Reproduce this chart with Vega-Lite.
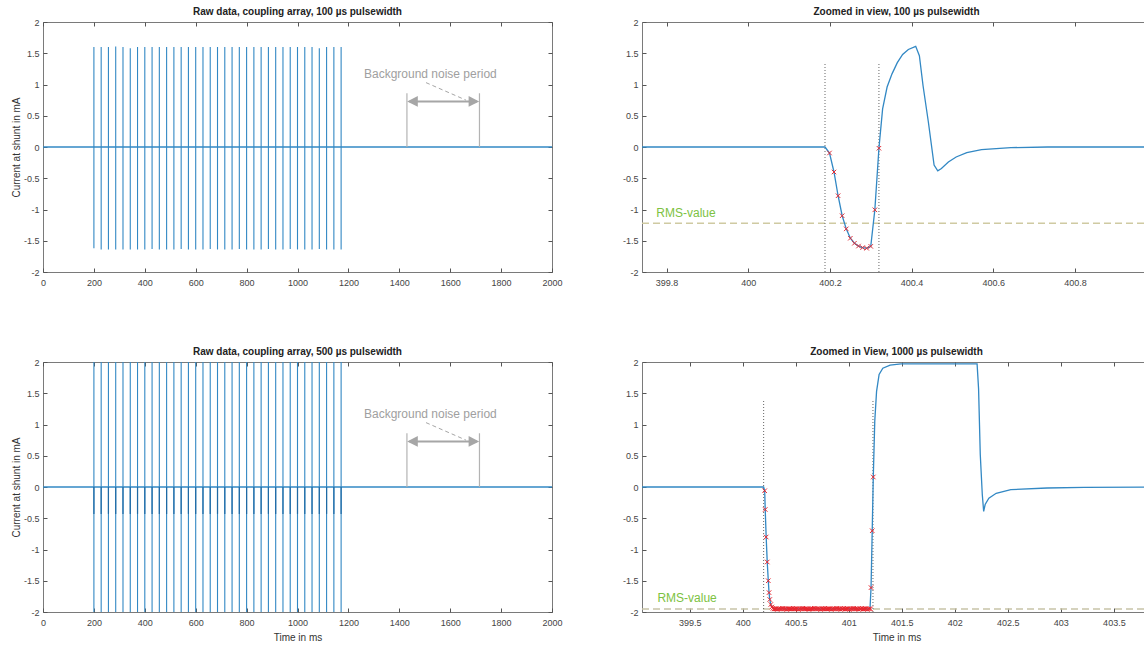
{
  "$schema": "https://vega.github.io/schema/vega-lite/v6.json",
  "background": "white",
  "padding": {"left": 10, "top": 6, "right": 0, "bottom": 0},
  "columns": 2,
  "spacing": {"column": 90, "row": 90},
  "bounds": "flush",
  "resolve": {"scale": {"x": "independent", "y": "independent"}},
  "config": {
    "view": {"stroke": "#7a7a7a", "strokeWidth": 1},
    "axis": {"grid": false, "domain": false, "tickColor": "#555555", "tickSize": -4, "tickWidth": 1, "labelPadding": 8, "labelFont": "Liberation Sans", "labelFontSize": 9, "labelColor": "#444444", "labelFlush": false, "labelOverlap": false, "titleFont": "Liberation Sans", "titleFontSize": 10, "titleFontWeight": "normal", "titleColor": "#333333", "titlePadding": 2},
    "axisX": {"labelPadding": 10, "titlePadding": 5},
    "title": {"font": "Liberation Sans", "fontSize": 10, "fontWeight": "bold", "color": "#222222", "offset": 1, "anchor": "middle", "frame": "group"}
  },
  "datasets": {
    "tl_base": [{"t": 0, "y": 0}, {"t": 2000, "y": 0}],
    "tl_spikes": [
      {"t": 200, "lo": -1.62, "hi": 1.6}, {"t": 228.6, "lo": -1.64, "hi": 1.6}, {"t": 257.1, "lo": -1.64, "hi": 1.6}, {"t": 285.7, "lo": -1.64, "hi": 1.61},
      {"t": 314.3, "lo": -1.64, "hi": 1.6}, {"t": 342.9, "lo": -1.64, "hi": 1.58}, {"t": 371.4, "lo": -1.64, "hi": 1.6}, {"t": 400, "lo": -1.64, "hi": 1.6},
      {"t": 428.6, "lo": -1.63, "hi": 1.6}, {"t": 457.1, "lo": -1.64, "hi": 1.6}, {"t": 485.7, "lo": -1.64, "hi": 1.6}, {"t": 514.3, "lo": -1.64, "hi": 1.6},
      {"t": 542.9, "lo": -1.63, "hi": 1.6}, {"t": 571.4, "lo": -1.64, "hi": 1.6}, {"t": 600, "lo": -1.64, "hi": 1.6}, {"t": 628.6, "lo": -1.64, "hi": 1.6},
      {"t": 657.1, "lo": -1.63, "hi": 1.6}, {"t": 685.7, "lo": -1.64, "hi": 1.6}, {"t": 714.3, "lo": -1.64, "hi": 1.6}, {"t": 742.9, "lo": -1.64, "hi": 1.6},
      {"t": 771.4, "lo": -1.63, "hi": 1.6}, {"t": 800, "lo": -1.64, "hi": 1.6}, {"t": 828.6, "lo": -1.64, "hi": 1.6}, {"t": 857.1, "lo": -1.64, "hi": 1.6},
      {"t": 885.7, "lo": -1.63, "hi": 1.6}, {"t": 914.3, "lo": -1.64, "hi": 1.6}, {"t": 942.9, "lo": -1.64, "hi": 1.6}, {"t": 971.4, "lo": -1.63, "hi": 1.6},
      {"t": 1000, "lo": -1.64, "hi": 1.6}, {"t": 1028.6, "lo": -1.64, "hi": 1.6}, {"t": 1057.1, "lo": -1.64, "hi": 1.6}, {"t": 1085.7, "lo": -1.63, "hi": 1.58},
      {"t": 1114.3, "lo": -1.64, "hi": 1.6}, {"t": 1142.9, "lo": -1.64, "hi": 1.6}, {"t": 1171.4, "lo": -1.64, "hi": 1.6}
    ],
    "bl_spikes": [
      {"t": 200, "lo": -2, "hi": 2, "base": 0, "os": -0.43}, {"t": 228.6, "lo": -2, "hi": 2, "base": 0, "os": -0.43}, {"t": 257.1, "lo": -2, "hi": 2, "base": 0, "os": -0.43}, {"t": 285.7, "lo": -2, "hi": 2, "base": 0, "os": -0.43},
      {"t": 314.3, "lo": -2, "hi": 2, "base": 0, "os": -0.43}, {"t": 342.9, "lo": -2, "hi": 2, "base": 0, "os": -0.43}, {"t": 371.4, "lo": -2, "hi": 2, "base": 0, "os": -0.43}, {"t": 400, "lo": -2, "hi": 2, "base": 0, "os": -0.43},
      {"t": 428.6, "lo": -2, "hi": 2, "base": 0, "os": -0.43}, {"t": 457.1, "lo": -2, "hi": 2, "base": 0, "os": -0.43}, {"t": 485.7, "lo": -2, "hi": 2, "base": 0, "os": -0.43}, {"t": 514.3, "lo": -2, "hi": 2, "base": 0, "os": -0.43},
      {"t": 542.9, "lo": -2, "hi": 2, "base": 0, "os": -0.43}, {"t": 571.4, "lo": -2, "hi": 2, "base": 0, "os": -0.43}, {"t": 600, "lo": -2, "hi": 2, "base": 0, "os": -0.43}, {"t": 628.6, "lo": -2, "hi": 2, "base": 0, "os": -0.43},
      {"t": 657.1, "lo": -2, "hi": 2, "base": 0, "os": -0.43}, {"t": 685.7, "lo": -2, "hi": 2, "base": 0, "os": -0.43}, {"t": 714.3, "lo": -2, "hi": 2, "base": 0, "os": -0.43}, {"t": 742.9, "lo": -2, "hi": 2, "base": 0, "os": -0.43},
      {"t": 771.4, "lo": -2, "hi": 2, "base": 0, "os": -0.43}, {"t": 800, "lo": -2, "hi": 2, "base": 0, "os": -0.43}, {"t": 828.6, "lo": -2, "hi": 2, "base": 0, "os": -0.43}, {"t": 857.1, "lo": -2, "hi": 2, "base": 0, "os": -0.43},
      {"t": 885.7, "lo": -2, "hi": 2, "base": 0, "os": -0.43}, {"t": 914.3, "lo": -2, "hi": 2, "base": 0, "os": -0.43}, {"t": 942.9, "lo": -2, "hi": 2, "base": 0, "os": -0.43}, {"t": 971.4, "lo": -2, "hi": 2, "base": 0, "os": -0.43},
      {"t": 1000, "lo": -2, "hi": 2, "base": 0, "os": -0.43}, {"t": 1028.6, "lo": -2, "hi": 2, "base": 0, "os": -0.43}, {"t": 1057.1, "lo": -2, "hi": 2, "base": 0, "os": -0.43}, {"t": 1085.7, "lo": -2, "hi": 2, "base": 0, "os": -0.43},
      {"t": 1114.3, "lo": -2, "hi": 2, "base": 0, "os": -0.43}, {"t": 1142.9, "lo": -2, "hi": 2, "base": 0, "os": -0.43}, {"t": 1171.4, "lo": -2, "hi": 2, "base": 0, "os": -0.43}
    ],
    "nz_v": [{"t": 1430, "y0": 0, "y1": 0.86}, {"t": 1715, "y0": 0, "y1": 0.86}],
    "nz_arrow": [{"t0": 1440, "t1": 1705, "y": 0.73}],
    "nz_heads": [{"t": 1431, "y": 0.73, "dir": "L"}, {"t": 1714, "y": 0.73, "dir": "R"}],
    "nz_leader": [{"t": 1505, "y": 1.03}, {"t": 1662, "y": 0.75}],
    "nz_label": [{"t": 1522, "y": 1.165, "label": "Background noise period"}],
    "tr_line": [
      {"t": 399.74, "y": 0}, {"t": 400.188, "y": 0}, {"t": 400.199, "y": -0.096}, {"t": 400.21, "y": -0.4}, {"t": 400.22, "y": -0.78},
      {"t": 400.23, "y": -1.1}, {"t": 400.24, "y": -1.31}, {"t": 400.25, "y": -1.46}, {"t": 400.26, "y": -1.54}, {"t": 400.27, "y": -1.585},
      {"t": 400.28, "y": -1.61}, {"t": 400.29, "y": -1.62}, {"t": 400.3, "y": -1.59}, {"t": 400.31, "y": -1.005}, {"t": 400.32, "y": -0.02},
      {"t": 400.329, "y": 0.61}, {"t": 400.34, "y": 0.96}, {"t": 400.352, "y": 1.17}, {"t": 400.365, "y": 1.35}, {"t": 400.378, "y": 1.48},
      {"t": 400.392, "y": 1.56}, {"t": 400.41, "y": 1.61}, {"t": 400.419, "y": 1.46}, {"t": 400.428, "y": 0.98}, {"t": 400.441, "y": 0.4},
      {"t": 400.455, "y": -0.29}, {"t": 400.464, "y": -0.38}, {"t": 400.473, "y": -0.345}, {"t": 400.49, "y": -0.24}, {"t": 400.509, "y": -0.16},
      {"t": 400.535, "y": -0.09}, {"t": 400.571, "y": -0.043}, {"t": 400.643, "y": -0.01}, {"t": 400.733, "y": 0}, {"t": 400.986, "y": 0}
    ],
    "tr_marks": [
      {"t": 400.199, "y": -0.096}, {"t": 400.21, "y": -0.4}, {"t": 400.22, "y": -0.78}, {"t": 400.23, "y": -1.1}, {"t": 400.24, "y": -1.31},
      {"t": 400.25, "y": -1.46}, {"t": 400.26, "y": -1.54}, {"t": 400.27, "y": -1.585}, {"t": 400.28, "y": -1.61}, {"t": 400.29, "y": -1.62},
      {"t": 400.3, "y": -1.59}, {"t": 400.31, "y": -1.005}, {"t": 400.32, "y": -0.02}
    ],
    "tr_vlines": [{"t": 400.188, "y0": -2, "y1": 1.36}, {"t": 400.32, "y0": -2, "y1": 1.36}],
    "tr_rms": [{"t0": 399.74, "t1": 400.986, "y": -1.22}],
    "tr_label": [{"t": 399.775, "y": -1.06, "label": "RMS-value"}],
    "br_line": [
      {"t": 399.05, "y": 0}, {"t": 400.197, "y": 0}, {"t": 400.207, "y": -0.06}, {"t": 400.212, "y": -0.36}, {"t": 400.221, "y": -0.8},
      {"t": 400.231, "y": -1.2}, {"t": 400.241, "y": -1.5}, {"t": 400.248, "y": -1.69}, {"t": 400.255, "y": -1.8}, {"t": 400.265, "y": -1.88},
      {"t": 400.28, "y": -1.93}, {"t": 400.3, "y": -1.95}, {"t": 401.2, "y": -1.95}, {"t": 401.21, "y": -1.61}, {"t": 401.221, "y": -0.7},
      {"t": 401.231, "y": 0.16}, {"t": 401.245, "y": 1.05}, {"t": 401.262, "y": 1.53}, {"t": 401.286, "y": 1.8}, {"t": 401.321, "y": 1.9},
      {"t": 401.39, "y": 1.95}, {"t": 401.493, "y": 1.97}, {"t": 402.21, "y": 1.97}, {"t": 402.224, "y": 1.57}, {"t": 402.24, "y": 0.52},
      {"t": 402.259, "y": -0.12}, {"t": 402.272, "y": -0.39}, {"t": 402.286, "y": -0.28}, {"t": 402.321, "y": -0.18}, {"t": 402.39, "y": -0.1},
      {"t": 402.528, "y": -0.043}, {"t": 402.87, "y": -0.016}, {"t": 403.22, "y": -0.005}, {"t": 403.85, "y": 0}
    ],
    "br_marks": [
      {"t": 400.207, "y": -0.06}, {"t": 400.212, "y": -0.36}, {"t": 400.221, "y": -0.8}, {"t": 400.231, "y": -1.2}, {"t": 400.241, "y": -1.5},
      {"t": 400.248, "y": -1.69}, {"t": 400.255, "y": -1.8}, {"t": 400.265, "y": -1.88}, {"t": 400.275, "y": -1.92}, {"t": 400.285, "y": -1.94},
      {"t": 400.295, "y": -1.95}, {"t": 400.305, "y": -1.95}, {"t": 400.315, "y": -1.95}, {"t": 400.325, "y": -1.96}, {"t": 400.335, "y": -1.95},
      {"t": 400.345, "y": -1.95}, {"t": 400.355, "y": -1.95}, {"t": 400.365, "y": -1.95}, {"t": 400.375, "y": -1.94}, {"t": 400.385, "y": -1.95},
      {"t": 400.395, "y": -1.95}, {"t": 400.405, "y": -1.95}, {"t": 400.415, "y": -1.96}, {"t": 400.425, "y": -1.95}, {"t": 400.435, "y": -1.95},
      {"t": 400.445, "y": -1.95}, {"t": 400.455, "y": -1.95}, {"t": 400.465, "y": -1.95}, {"t": 400.475, "y": -1.94}, {"t": 400.485, "y": -1.95},
      {"t": 400.495, "y": -1.95}, {"t": 400.505, "y": -1.95}, {"t": 400.515, "y": -1.95}, {"t": 400.525, "y": -1.96}, {"t": 400.535, "y": -1.95},
      {"t": 400.545, "y": -1.95}, {"t": 400.555, "y": -1.95}, {"t": 400.565, "y": -1.94}, {"t": 400.575, "y": -1.95}, {"t": 400.585, "y": -1.95},
      {"t": 400.595, "y": -1.95}, {"t": 400.605, "y": -1.95}, {"t": 400.615, "y": -1.95}, {"t": 400.625, "y": -1.96}, {"t": 400.635, "y": -1.95},
      {"t": 400.645, "y": -1.95}, {"t": 400.655, "y": -1.95}, {"t": 400.665, "y": -1.95}, {"t": 400.675, "y": -1.94}, {"t": 400.685, "y": -1.95},
      {"t": 400.695, "y": -1.95}, {"t": 400.705, "y": -1.95}, {"t": 400.715, "y": -1.95}, {"t": 400.725, "y": -1.95}, {"t": 400.735, "y": -1.96},
      {"t": 400.745, "y": -1.95}, {"t": 400.755, "y": -1.95}, {"t": 400.765, "y": -1.95}, {"t": 400.775, "y": -1.94}, {"t": 400.785, "y": -1.95},
      {"t": 400.795, "y": -1.95}, {"t": 400.805, "y": -1.95}, {"t": 400.815, "y": -1.95}, {"t": 400.825, "y": -1.95}, {"t": 400.835, "y": -1.96},
      {"t": 400.845, "y": -1.95}, {"t": 400.855, "y": -1.95}, {"t": 400.865, "y": -1.95}, {"t": 400.875, "y": -1.95}, {"t": 400.885, "y": -1.94},
      {"t": 400.895, "y": -1.95}, {"t": 400.905, "y": -1.95}, {"t": 400.915, "y": -1.95}, {"t": 400.925, "y": -1.96}, {"t": 400.935, "y": -1.95},
      {"t": 400.945, "y": -1.95}, {"t": 400.955, "y": -1.94}, {"t": 400.965, "y": -1.95}, {"t": 400.975, "y": -1.95}, {"t": 400.985, "y": -1.95},
      {"t": 400.995, "y": -1.95}, {"t": 401.005, "y": -1.96}, {"t": 401.015, "y": -1.95}, {"t": 401.025, "y": -1.95}, {"t": 401.035, "y": -1.95},
      {"t": 401.045, "y": -1.94}, {"t": 401.055, "y": -1.95}, {"t": 401.065, "y": -1.95}, {"t": 401.075, "y": -1.95}, {"t": 401.085, "y": -1.95},
      {"t": 401.095, "y": -1.96}, {"t": 401.105, "y": -1.95}, {"t": 401.115, "y": -1.95}, {"t": 401.125, "y": -1.94}, {"t": 401.135, "y": -1.95},
      {"t": 401.145, "y": -1.95}, {"t": 401.155, "y": -1.95}, {"t": 401.165, "y": -1.95}, {"t": 401.175, "y": -1.96}, {"t": 401.185, "y": -1.95},
      {"t": 401.195, "y": -1.95}, {"t": 401.205, "y": -1.95}, {"t": 401.21, "y": -1.61}, {"t": 401.221, "y": -0.7}, {"t": 401.231, "y": 0.16}
    ],
    "br_vlines": [{"t": 400.197, "y0": -2, "y1": 1.385}, {"t": 401.228, "y0": -2, "y1": 1.385}],
    "br_rms": [{"t0": 399.05, "t1": 403.85, "y": -1.952}],
    "br_label": [{"t": 399.195, "y": -1.78, "label": "RMS-value"}]
  },
  "concat": [
    {
      "title": "Raw data, coupling array, 100 µs pulsewidth",
      "width": 509, "height": 250,
      "resolve": {"axis": {"x": "independent", "y": "independent"}},
      "layer": [
        {"data": {"name": "tl_base"}, "mark": {"type": "line", "color": "#3288c4", "strokeWidth": 1.3},
         "encoding": {
           "x": {"field": "t", "type": "quantitative", "scale": {"domain": [0, 2000], "nice": false, "zero": false}, "axis": {"values": [0, 200, 400, 600, 800, 1000, 1200, 1400, 1600, 1800, 2000], "labelExpr": "datum.value + ''", "title": null}},
           "y": {"field": "y", "type": "quantitative", "scale": {"domain": [-2, 2], "nice": false, "zero": false}, "axis": {"values": [-2, -1.5, -1, -0.5, 0, 0.5, 1, 1.5, 2], "labelExpr": "datum.value + ''", "title": "Current at shunt in mA"}}}},
        {"data": {"name": "tl_spikes"}, "mark": {"type": "rule", "color": "#3288c4", "strokeWidth": 1.1},
         "encoding": {"x": {"field": "t", "type": "quantitative", "axis": null}, "y": {"field": "lo", "type": "quantitative", "axis": null}, "y2": {"field": "hi"}}},
        {"data": {"name": "nz_v"}, "mark": {"type": "rule", "color": "#b3b3b3", "strokeWidth": 1.2},
         "encoding": {"x": {"field": "t", "type": "quantitative", "axis": null}, "y": {"field": "y0", "type": "quantitative", "axis": null}, "y2": {"field": "y1"}}},
        {"data": {"name": "nz_arrow"}, "mark": {"type": "rule", "color": "#a6a6a6", "strokeWidth": 2},
         "encoding": {"x": {"field": "t0", "type": "quantitative", "axis": null}, "x2": {"field": "t1"}, "y": {"field": "y", "type": "quantitative", "axis": null}}},
        {"data": {"name": "nz_heads"}, "mark": {"type": "point", "filled": true, "color": "#a6a6a6", "size": 450, "opacity": 1},
         "encoding": {"x": {"field": "t", "type": "quantitative", "axis": null}, "y": {"field": "y", "type": "quantitative", "axis": null},
           "shape": {"field": "dir", "type": "nominal", "scale": {"domain": ["L", "R"], "range": ["M0,0L1,-0.5L1,0.5Z", "M0,0L-1,-0.5L-1,0.5Z"]}, "legend": null}}},
        {"data": {"name": "nz_leader"}, "mark": {"type": "line", "color": "#a6a6a6", "strokeWidth": 1, "strokeDash": [4, 3]},
         "encoding": {"x": {"field": "t", "type": "quantitative", "axis": null}, "y": {"field": "y", "type": "quantitative", "axis": null}}},
        {"data": {"name": "nz_label"}, "mark": {"type": "text", "color": "#a0a0a0", "fontSize": 12, "font": "Liberation Sans", "align": "center", "baseline": "middle"},
         "encoding": {"x": {"field": "t", "type": "quantitative", "axis": null}, "y": {"field": "y", "type": "quantitative", "axis": null}, "text": {"field": "label", "type": "nominal"}}},
        {"data": {"name": "tl_base"}, "mark": {"type": "line", "color": "transparent", "strokeOpacity": 0, "opacity": 0},
         "encoding": {
           "x": {"field": "t", "type": "quantitative", "axis": {"orient": "top", "values": [0, 200, 400, 600, 800, 1000, 1200, 1400, 1600, 1800, 2000], "labels": false, "title": null}},
           "y": {"field": "y", "type": "quantitative", "axis": {"orient": "right", "values": [-2, -1.5, -1, -0.5, 0, 0.5, 1, 1.5, 2], "labels": false, "title": null}}}}
      ]
    },
    {
      "title": "Zoomed in view, 100 µs pulsewidth",
      "width": 509, "height": 250,
      "resolve": {"axis": {"x": "independent", "y": "independent"}},
      "layer": [
        {"data": {"name": "tr_rms"}, "mark": {"type": "rule", "color": "#cfcaa2", "strokeWidth": 1.5, "strokeDash": [7, 4]},
         "encoding": {"x": {"field": "t0", "type": "quantitative", "axis": null}, "x2": {"field": "t1"}, "y": {"field": "y", "type": "quantitative", "axis": null}}},
        {"data": {"name": "tr_vlines"}, "mark": {"type": "rule", "color": "#555555", "strokeWidth": 0.9, "strokeDash": [1, 2]},
         "encoding": {"x": {"field": "t", "type": "quantitative", "axis": null}, "y": {"field": "y0", "type": "quantitative", "axis": null}, "y2": {"field": "y1"}}},
        {"data": {"name": "tr_line"}, "mark": {"type": "line", "color": "#3288c4", "strokeWidth": 1.3},
         "encoding": {
           "x": {"field": "t", "type": "quantitative", "scale": {"domain": [399.74, 400.986], "nice": false, "zero": false}, "axis": {"values": [399.8, 400, 400.2, 400.4, 400.6, 400.8], "labelExpr": "datum.value + ''", "title": null}},
           "y": {"field": "y", "type": "quantitative", "scale": {"domain": [-2, 2], "nice": false, "zero": false}, "axis": {"values": [-2, -1.5, -1, -0.5, 0, 0.5, 1, 1.5, 2], "labelExpr": "datum.value + ''", "title": null}}}},
        {"data": {"name": "tr_marks"}, "mark": {"type": "point", "shape": "M-1,-1L1,1M-1,1L1,-1", "filled": false, "color": "#e0303a", "strokeWidth": 1, "size": 20, "opacity": 1},
         "encoding": {"x": {"field": "t", "type": "quantitative", "axis": null}, "y": {"field": "y", "type": "quantitative", "axis": null}}},
        {"data": {"name": "tr_label"}, "mark": {"type": "text", "color": "#7dc242", "fontSize": 12, "font": "Liberation Sans", "align": "left", "baseline": "middle"},
         "encoding": {"x": {"field": "t", "type": "quantitative", "axis": null}, "y": {"field": "y", "type": "quantitative", "axis": null}, "text": {"field": "label", "type": "nominal"}}},
        {"data": {"name": "tr_line"}, "mark": {"type": "line", "color": "transparent", "strokeOpacity": 0, "opacity": 0},
         "encoding": {
           "x": {"field": "t", "type": "quantitative", "axis": {"orient": "top", "values": [399.8, 400, 400.2, 400.4, 400.6, 400.8], "labels": false, "title": null}},
           "y": {"field": "y", "type": "quantitative", "axis": {"orient": "right", "values": [-2, -1.5, -1, -0.5, 0, 0.5, 1, 1.5, 2], "labels": false, "title": null}}}}
      ]
    },
    {
      "title": "Raw data, coupling array, 500 µs pulsewidth",
      "width": 509, "height": 250,
      "resolve": {"axis": {"x": "independent", "y": "independent"}},
      "layer": [
        {"data": {"name": "tl_base"}, "mark": {"type": "line", "color": "#3288c4", "strokeWidth": 1.3},
         "encoding": {
           "x": {"field": "t", "type": "quantitative", "scale": {"domain": [0, 2000], "nice": false, "zero": false}, "axis": {"values": [0, 200, 400, 600, 800, 1000, 1200, 1400, 1600, 1800, 2000], "labelExpr": "datum.value + ''", "title": "Time in ms"}},
           "y": {"field": "y", "type": "quantitative", "scale": {"domain": [-2, 2], "nice": false, "zero": false}, "axis": {"values": [-2, -1.5, -1, -0.5, 0, 0.5, 1, 1.5, 2], "labelExpr": "datum.value + ''", "title": "Current at shunt in mA"}}}},
        {"data": {"name": "bl_spikes"}, "mark": {"type": "rule", "color": "#3288c4", "strokeWidth": 1.1},
         "encoding": {"x": {"field": "t", "type": "quantitative", "axis": null}, "y": {"field": "lo", "type": "quantitative", "axis": null}, "y2": {"field": "hi"}}},
        {"data": {"name": "bl_spikes"}, "mark": {"type": "rule", "color": "#1f6aa5", "strokeWidth": 1.2},
         "encoding": {"x": {"field": "t", "type": "quantitative", "axis": null}, "y": {"field": "base", "type": "quantitative", "axis": null}, "y2": {"field": "os"}}},
        {"data": {"name": "nz_v"}, "mark": {"type": "rule", "color": "#b3b3b3", "strokeWidth": 1.2},
         "encoding": {"x": {"field": "t", "type": "quantitative", "axis": null}, "y": {"field": "y0", "type": "quantitative", "axis": null}, "y2": {"field": "y1"}}},
        {"data": {"name": "nz_arrow"}, "mark": {"type": "rule", "color": "#a6a6a6", "strokeWidth": 2},
         "encoding": {"x": {"field": "t0", "type": "quantitative", "axis": null}, "x2": {"field": "t1"}, "y": {"field": "y", "type": "quantitative", "axis": null}}},
        {"data": {"name": "nz_heads"}, "mark": {"type": "point", "filled": true, "color": "#a6a6a6", "size": 450, "opacity": 1},
         "encoding": {"x": {"field": "t", "type": "quantitative", "axis": null}, "y": {"field": "y", "type": "quantitative", "axis": null},
           "shape": {"field": "dir", "type": "nominal", "scale": {"domain": ["L", "R"], "range": ["M0,0L1,-0.5L1,0.5Z", "M0,0L-1,-0.5L-1,0.5Z"]}, "legend": null}}},
        {"data": {"name": "nz_leader"}, "mark": {"type": "line", "color": "#a6a6a6", "strokeWidth": 1, "strokeDash": [4, 3]},
         "encoding": {"x": {"field": "t", "type": "quantitative", "axis": null}, "y": {"field": "y", "type": "quantitative", "axis": null}}},
        {"data": {"name": "nz_label"}, "mark": {"type": "text", "color": "#a0a0a0", "fontSize": 12, "font": "Liberation Sans", "align": "center", "baseline": "middle"},
         "encoding": {"x": {"field": "t", "type": "quantitative", "axis": null}, "y": {"field": "y", "type": "quantitative", "axis": null}, "text": {"field": "label", "type": "nominal"}}},
        {"data": {"name": "tl_base"}, "mark": {"type": "line", "color": "transparent", "strokeOpacity": 0, "opacity": 0},
         "encoding": {
           "x": {"field": "t", "type": "quantitative", "axis": {"orient": "top", "values": [0, 200, 400, 600, 800, 1000, 1200, 1400, 1600, 1800, 2000], "labels": false, "title": null}},
           "y": {"field": "y", "type": "quantitative", "axis": {"orient": "right", "values": [-2, -1.5, -1, -0.5, 0, 0.5, 1, 1.5, 2], "labels": false, "title": null}}}}
      ]
    },
    {
      "title": "Zoomed in View, 1000 µs pulsewidth",
      "width": 509, "height": 250,
      "resolve": {"axis": {"x": "independent", "y": "independent"}},
      "layer": [
        {"data": {"name": "br_rms"}, "mark": {"type": "rule", "color": "#c8c4a8", "strokeWidth": 1.5, "strokeDash": [7, 4]},
         "encoding": {"x": {"field": "t0", "type": "quantitative", "axis": null}, "x2": {"field": "t1"}, "y": {"field": "y", "type": "quantitative", "axis": null}}},
        {"data": {"name": "br_vlines"}, "mark": {"type": "rule", "color": "#555555", "strokeWidth": 0.9, "strokeDash": [1, 2]},
         "encoding": {"x": {"field": "t", "type": "quantitative", "axis": null}, "y": {"field": "y0", "type": "quantitative", "axis": null}, "y2": {"field": "y1"}}},
        {"data": {"name": "br_line"}, "mark": {"type": "line", "color": "#3288c4", "strokeWidth": 1.3},
         "encoding": {
           "x": {"field": "t", "type": "quantitative", "scale": {"domain": [399.05, 403.85], "nice": false, "zero": false}, "axis": {"values": [399.5, 400, 400.5, 401, 401.5, 402, 402.5, 403, 403.5], "labelExpr": "datum.value + ''", "title": "Time in ms"}},
           "y": {"field": "y", "type": "quantitative", "scale": {"domain": [-2, 2], "nice": false, "zero": false}, "axis": {"values": [-2, -1.5, -1, -0.5, 0, 0.5, 1, 1.5, 2], "labelExpr": "datum.value + ''", "title": null}}}},
        {"data": {"name": "br_marks"}, "mark": {"type": "point", "shape": "M-1,-1L1,1M-1,1L1,-1", "filled": false, "color": "#e8262e", "strokeWidth": 1, "size": 20, "opacity": 1},
         "encoding": {"x": {"field": "t", "type": "quantitative", "axis": null}, "y": {"field": "y", "type": "quantitative", "axis": null}}},
        {"data": {"name": "br_label"}, "mark": {"type": "text", "color": "#7dc242", "fontSize": 12, "font": "Liberation Sans", "align": "left", "baseline": "middle"},
         "encoding": {"x": {"field": "t", "type": "quantitative", "axis": null}, "y": {"field": "y", "type": "quantitative", "axis": null}, "text": {"field": "label", "type": "nominal"}}},
        {"data": {"name": "br_line"}, "mark": {"type": "line", "color": "transparent", "strokeOpacity": 0, "opacity": 0},
         "encoding": {
           "x": {"field": "t", "type": "quantitative", "axis": {"orient": "top", "values": [399.5, 400, 400.5, 401, 401.5, 402, 402.5, 403, 403.5], "labels": false, "title": null}},
           "y": {"field": "y", "type": "quantitative", "axis": {"orient": "right", "values": [-2, -1.5, -1, -0.5, 0, 0.5, 1, 1.5, 2], "labels": false, "title": null}}}}
      ]
    }
  ]
}
